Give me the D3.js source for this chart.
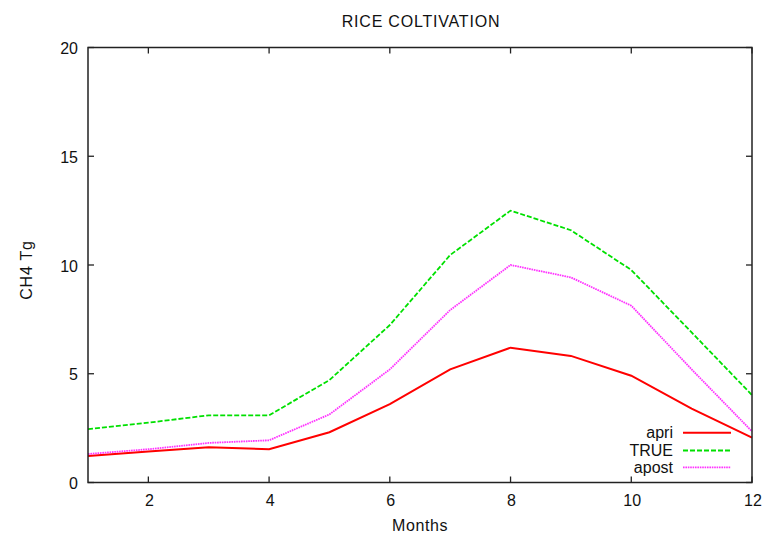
<!DOCTYPE html>
<html><head><meta charset="utf-8">
<script src="https://cdn.jsdelivr.net/npm/d3@7"></script>
<style>
body{margin:0;background:#fff;}
text{font-family:"Liberation Sans",Arial,Helvetica,sans-serif;fill:#111;}
</style></head>
<body><svg id="c" width="779" height="545"></svg>
<script>
const months = [1,2,3,4,5,6,7,8,9,10,11,12];
const apri  = [1.22,1.42,1.62,1.53,2.31,3.6,5.2,6.2,5.82,4.91,3.4,2.06];
const trueV = [2.45,2.75,3.09,3.09,4.71,7.24,10.46,12.5,11.6,9.77,6.9,4.02];
const apost = [1.31,1.53,1.82,1.94,3.13,5.2,7.93,10.0,9.43,8.13,5.2,2.35];
const xTicks = [2,4,6,8,10,12];
const yTicks = [0,5,10,15,20];
const seriesNames = ["apri","TRUE","apost"];
const seriesColors = ["#ff0000","#00e000","#ff33ff"];
const seriesDash = [null,"5,2","1.6,0.8"];
const seriesWidth = [2,1.8,1.8];
const seriesData = [apri,trueV,apost];

const svg = d3.select("#c");
const L=88,R=752,T=47.5,B=482.5;
const x = d3.scaleLinear().domain([1,12]).range([L,R]);
const y = d3.scaleLinear().domain([0,20]).range([B,T]);

// series
const line = d3.line().x((d,i)=>x(months[i])).y(d=>y(d));
seriesData.forEach((s,k)=>{
  svg.append("path").datum(s).attr("d",line).attr("fill","none")
    .attr("stroke",seriesColors[k]).attr("stroke-width",seriesWidth[k])
    .attr("stroke-dasharray",seriesDash[k]);
});

// frame
svg.append("rect").attr("x",L).attr("y",T).attr("width",R-L).attr("height",B-T)
  .attr("fill","none").attr("stroke","#222").attr("stroke-width",1.5);

const tl=6;
const ax = svg.append("g").attr("stroke","#222").attr("stroke-width",1.3);
xTicks.forEach(t=>{
  ax.append("line").attr("x1",x(t)).attr("x2",x(t)).attr("y1",B).attr("y2",B-tl);
  ax.append("line").attr("x1",x(t)).attr("x2",x(t)).attr("y1",T).attr("y2",T+tl);
});
yTicks.forEach(t=>{
  ax.append("line").attr("x1",L).attr("x2",L+tl).attr("y1",y(t)).attr("y2",y(t));
  ax.append("line").attr("x1",R).attr("x2",R-tl).attr("y1",y(t)).attr("y2",y(t));
});
xTicks.forEach(t=>{
  svg.append("text").attr("x",x(t)+1).attr("y",B+23.5).attr("text-anchor","middle")
    .attr("font-size",16).text(t);
});
yTicks.forEach(t=>{
  svg.append("text").attr("x",L-10).attr("y",y(t)+6.5).attr("text-anchor","end")
    .attr("font-size",16).text(t);
});

svg.append("text").attr("x",421).attr("y",27).attr("text-anchor","middle")
  .attr("font-size",16).attr("letter-spacing",0.8).text("RICE COLTIVATION");
svg.append("text").attr("x",420).attr("y",531).attr("text-anchor","middle")
  .attr("font-size",16).attr("letter-spacing",0.6).text("Months");
svg.append("text").attr("transform","translate(32,270) rotate(-90)").attr("text-anchor","middle")
  .attr("font-size",16).attr("letter-spacing",0.8).text("CH4 Tg");

// legend
const ly=[432.7,450.5,467.3];
seriesNames.forEach((n,k)=>{
  svg.append("text").attr("x",673).attr("y",ly[k]+5.5).attr("text-anchor","end")
    .attr("font-size",16).text(n);
  svg.append("line").attr("x1",683).attr("x2",731).attr("y1",ly[k]).attr("y2",ly[k])
    .attr("stroke",seriesColors[k]).attr("stroke-width",seriesWidth[k])
    .attr("stroke-dasharray",seriesDash[k]);
});
</script></body></html>
